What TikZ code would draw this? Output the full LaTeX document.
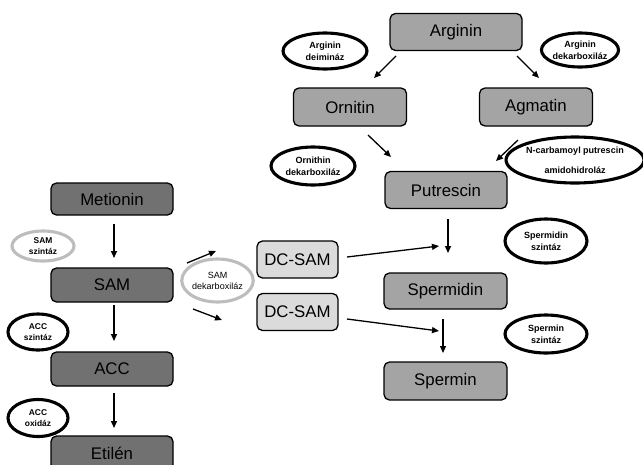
\documentclass[tikz,border=0pt]{standalone}
\usepackage{fontspec}
\setmainfont{Liberation Sans}
\usetikzlibrary{shapes.geometric,arrows.meta}
\definecolor{darkbox}{HTML}{717171}
\definecolor{midbox}{HTML}{A4A4A4}
\definecolor{lightbox}{HTML}{DBDBDB}
\definecolor{greyring}{HTML}{BDBDBD}
\begin{document}
\begin{tikzpicture}[x=1pt,y=-1pt,
  box/.style={draw=black,line width=1.3pt,rounded corners=5.5pt,inner sep=0pt,
    font=\fontsize{16.8}{19}\selectfont},
  leftbox/.style={box,fill=darkbox,minimum width=122pt,minimum height=33pt},
  rightbox/.style={box,fill=midbox},
  dcbox/.style={box,fill=lightbox,minimum width=81pt,minimum height=37pt},
  enzyme/.style={ellipse,draw=black,line width=3.1pt,inner sep=0pt,align=center,
    font=\bfseries\fontsize{9}{12}\selectfont},
  greyenzyme/.style={enzyme,draw=greyring},
  arr/.style={line width=1.3pt,-{Triangle[length=7pt,width=6pt]}}]
\useasboundingbox (0,0) rectangle (643,464);

% arginine branch
\node[rightbox,minimum width=132pt,minimum height=37pt] (arg) at (456,32) {Arginin};
\node[rightbox,minimum width=113pt,minimum height=38pt] (orn) at (350,107) {Ornitin};
\node[rightbox,minimum width=113pt,minimum height=38pt] (agm) at (536,107) {Agmatin};
\node[rightbox,minimum width=122pt,minimum height=37pt] (put) at (446,190) {Putrescin};
\node[rightbox,minimum width=123pt,minimum height=36pt] (spd) at (445.5,291) {Spermidin};
\node[rightbox,minimum width=123pt,minimum height=38pt] (spm) at (445.5,381) {Spermin};

% decarboxylated SAM
\node[dcbox] (dc1) at (297.5,259.5) {DC-SAM};
\node[dcbox] (dc2) at (297.5,312) {DC-SAM};

% methionine / ethylene branch
\node[leftbox,minimum height=32pt] (met) at (112,199) {Metionin};
\node[leftbox,minimum height=34pt] (sam) at (112,285) {SAM};
\node[leftbox,minimum height=34pt] (acc) at (112,369) {ACC};
\node[leftbox,minimum height=34pt] (eti) at (112,453) {Etilén};

% enzymes
\node[enzyme,minimum width=84pt,minimum height=36pt] (e1) at (325,51) {Arginin\\deimináz};
\node[enzyme,minimum width=74pt,minimum height=34pt] (e2) at (580,50) {Arginin\\dekarboxiláz};
\node[enzyme,minimum width=84pt,minimum height=38pt] (e3) at (313,166) {Ornithin\\dekarboxiláz};
\node[enzyme,minimum width=132pt,minimum height=46pt,
  font=\bfseries\fontsize{9}{20}\selectfont] (e4) at (575,160) {N-carbamoyl putrescin\\amidohidroláz};
\node[enzyme,minimum width=82pt,minimum height=44pt] (e5) at (546,241) {Spermidin\\szintáz};
\node[enzyme,minimum width=82pt,minimum height=38pt] (e6) at (546,334) {Spermin\\szintáz};
\node[greyenzyme,minimum width=71pt,minimum height=43pt,
  font=\fontsize{9}{11}\selectfont] (e7) at (217.5,280.5) {SAM\\dekarboxiláz};
\node[greyenzyme,minimum width=62pt,minimum height=30pt,
  font=\bfseries\fontsize{8.4}{10.5}\selectfont] (e8) at (43,246) {SAM\\szintáz};
\node[enzyme,minimum width=60pt,minimum height=36pt,
  font=\bfseries\fontsize{8.4}{10.5}\selectfont] (e9) at (38,332) {ACC\\szintáz};
\node[enzyme,minimum width=60pt,minimum height=37pt,
  font=\bfseries\fontsize{8.4}{10.5}\selectfont] (e10) at (38,418) {ACC\\oxidáz};

% arrow end points
\coordinate (a1s) at (396,56);  \coordinate (a1e) at (374,78);
\coordinate (a2s) at (517,56);  \coordinate (a2e) at (539,78);
\coordinate (a3s) at (368,135); \coordinate (a3e) at (391,157);
\coordinate (a4s) at (518,140); \coordinate (a4e) at (496,161);
\coordinate (a5s) at (448,219); \coordinate (a5e) at (448,253);
\coordinate (a6s) at (443,319); \coordinate (a6e) at (443,353);
\coordinate (a7s) at (347,257); \coordinate (a7e) at (439,246);
\coordinate (a8s) at (347,319); \coordinate (a8e) at (439,331);
\coordinate (a9s) at (187,263); \coordinate (a9e) at (216,251);
\coordinate (a10s) at (193,309); \coordinate (a10e) at (222,320);
\coordinate (a11s) at (114,224); \coordinate (a11e) at (114,258);
\coordinate (a12s) at (114,305); \coordinate (a12e) at (114,341);
\coordinate (a13s) at (114,393); \coordinate (a13e) at (114,428);

\draw[arr] (a1s) -- (a1e);
\draw[arr] (a2s) -- (a2e);
\draw[arr] (a3s) -- (a3e);
\draw[arr] (a4s) -- (a4e);
\draw[arr] (a5s) -- (a5e);
\draw[arr] (a6s) -- (a6e);
\draw[arr] (a7s) -- (a7e);
\draw[arr] (a8s) -- (a8e);
\draw[arr] (a9s) -- (a9e);
\draw[arr] (a10s) -- (a10e);
\draw[arr] (a11s) -- (a11e);
\draw[arr] (a12s) -- (a12e);
\draw[arr] (a13s) -- (a13e);
\end{tikzpicture}
\end{document}
